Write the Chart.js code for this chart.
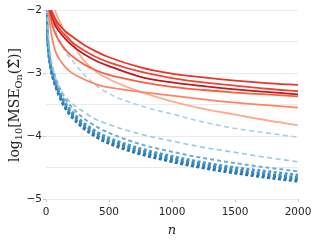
<!DOCTYPE html>
<html><head><meta charset="utf-8">
<script src="https://cdn.jsdelivr.net/npm/chart.js@4/dist/chart.umd.min.js"></script>
<style>html,body{margin:0;padding:0;background:#fff;}</style>
</head><body>
<canvas id="c" width="316" height="244"></canvas>
<script>
// sample sizes n
const nValues = [5,10,20,40,60,80,100,150,200,300,400,500,750,1000,1250,1500,1750,2000];
// red solid series (log10 MSE)
const red1 = [-1.30,-1.50,-1.75,-1.98,-2.08,-2.16,-2.22,-2.33,-2.41,-2.55,-2.66,-2.75,-2.91,-3.01,-3.07,-3.12,-3.16,-3.19];
const red2 = [-1.35,-1.55,-1.80,-2.02,-2.13,-2.21,-2.28,-2.40,-2.50,-2.64,-2.75,-2.83,-2.98,-3.08,-3.15,-3.20,-3.25,-3.29];
const red3 = [-1.40,-1.60,-1.85,-2.06,-2.18,-2.27,-2.33,-2.45,-2.55,-2.70,-2.81,-2.89,-3.06,-3.15,-3.21,-3.26,-3.30,-3.34];
const red4 = [-1.35,-1.60,-1.88,-2.15,-2.30,-2.40,-2.48,-2.62,-2.72,-2.86,-2.96,-3.03,-3.14,-3.22,-3.27,-3.31,-3.34,-3.37];
const red5 = [-1.45,-1.70,-2.00,-2.35,-2.55,-2.68,-2.76,-2.90,-2.99,-3.10,-3.18,-3.23,-3.30,-3.36,-3.42,-3.47,-3.51,-3.55];
const red6 = [-1.00,-1.20,-1.45,-1.75,-1.93,-2.05,-2.15,-2.35,-2.50,-2.80,-2.98,-3.10,-3.30,-3.45,-3.57,-3.66,-3.75,-3.83];
// blue dashed series
const blue1 = [-1.40,-1.60,-1.80,-2.05,-2.20,-2.35,-2.45,-2.65,-2.78,-3.02,-3.20,-3.33,-3.52,-3.65,-3.78,-3.88,-3.95,-4.02];
const blue2 = [-1.70,-2.00,-2.40,-2.78,-2.97,-3.11,-3.21,-3.37,-3.47,-3.62,-3.74,-3.82,-3.97,-4.08,-4.18,-4.26,-4.34,-4.41];
const blue3 = [-1.90,-2.25,-2.55,-2.82,-2.97,-3.10,-3.20,-3.40,-3.53,-3.72,-3.85,-3.95,-4.13,-4.25,-4.35,-4.43,-4.50,-4.56];
const blue4 = [-1.95,-2.30,-2.60,-2.88,-3.04,-3.16,-3.26,-3.46,-3.60,-3.79,-3.93,-4.03,-4.20,-4.32,-4.42,-4.50,-4.56,-4.62];
const blue5 = [-1.97,-2.32,-2.63,-2.91,-3.07,-3.19,-3.29,-3.49,-3.63,-3.82,-3.96,-4.06,-4.23,-4.35,-4.45,-4.53,-4.60,-4.66];
const blue6 = [-2.00,-2.35,-2.66,-2.94,-3.10,-3.22,-3.32,-3.52,-3.66,-3.85,-3.99,-4.09,-4.26,-4.38,-4.48,-4.56,-4.63,-4.69];
const blue7 = [-2.02,-2.37,-2.68,-2.96,-3.12,-3.24,-3.35,-3.55,-3.69,-3.88,-4.02,-4.12,-4.29,-4.41,-4.51,-4.59,-4.66,-4.72];
const xTicks = [0,500,1000,1500,2000];
const yTicks = [-5,-4,-3,-2];

function pts(arr){ return arr.map((v,i)=>({x:nValues[i], y:v})); }
function solid(arr,color){ return {data:pts(arr), borderColor:color, borderWidth:1.8, pointRadius:0, fill:false, cubicInterpolationMode:'monotone'}; }
function dashed(arr,color,w,dash){ return {data:pts(arr), borderColor:color, borderWidth:w, borderDash:dash, pointRadius:0, fill:false, cubicInterpolationMode:'monotone'}; }

const datasets = [
  solid(red1,'#e8352b'),
  solid(red2,'#ee4433'),
  solid(red3,'#c4161c'),
  solid(red4,'#f6603f'),
  solid(red5,'#fc8565'),
  solid(red6,'#fcac91'),
  dashed(blue1,'#a9d0e6',1.6,[5,3.5]),
  dashed(blue2,'#9ac8e0',1.6,[5,3.5]),
  dashed(blue3,'#6aaed6',2,[4,3]),
  dashed(blue4,'#4a97c9',2.5,[3,2.5]),
  dashed(blue5,'#3a88c2',2.5,[3,2.5]),
  dashed(blue6,'#2e7ebc',2.5,[3,2.5]),
  dashed(blue7,'#2171b5',2.5,[3,2.5])
];

const titles = {
  id:'titles',
  afterDraw(chart){
    const ctx = chart.ctx;
    ctx.save();
    ctx.fillStyle = '#262626';
    // x title
    ctx.font = 'italic 13px "DejaVu Serif"';
    ctx.textAlign = 'center'; ctx.textBaseline = 'alphabetic';
    ctx.fillText('n', (chart.chartArea.left+chart.chartArea.right)/2, 234);
    // y title
    ctx.translate(15, 105);
    ctx.rotate(-Math.PI/2);
    ctx.textAlign = 'left';
    let s = 12;
    const parts = [['log',1,0],['10',0.7,3],['[MSE',1,0],['On',0.7,3],['(\u03A3\u0302)]',1,0]];
    const measure = (sz)=>{ let t=0; parts.forEach(p=>{ ctx.font = (sz*p[1])+'px "DejaVu Serif"'; t+=ctx.measureText(p[0]).width; }); return t; };
    s = s*114/measure(s);
    let x = -measure(s)/2;
    parts.forEach(p=>{ ctx.font = (s*p[1])+'px "DejaVu Serif"'; ctx.fillText(p[0], x, 4 + p[2]); x += ctx.measureText(p[0]).width; });
    ctx.restore();
  }
};

const fmt = v => String(v).replace('-', '\u2212');

new Chart(document.getElementById('c'), {
  type:'line',
  data:{datasets},
  options:{
    responsive:false, animation:false, devicePixelRatio:1,
    layout:{padding:{top:10,right:18,left:0,bottom:0}},
    plugins:{legend:{display:false}, tooltip:{enabled:false}},
    scales:{
      x:{type:'linear', min:0, max:2000,
        afterBuildTicks: s => { s.ticks = xTicks.map(v=>({value:v})); },
        afterFit: s => { s.height = 45; },
        ticks:{color:'#262626', font:{family:'"DejaVu Sans"', size:10.5}, padding:4, maxRotation:0, callback: v => String(v)},
        grid:{drawOnChartArea:false, drawTicks:true, tickLength:3, tickColor:'#c8c8c8'},
        border:{display:false}
      },
      y:{type:'linear', min:-5, max:-2,
        afterBuildTicks: s => { const t=[]; for(let i=0;i<7;i++){ t.push({value:-5+0.5*i}); } s.ticks = t; },
        afterFit: s => { s.width = 46; },
        ticks:{color:'#262626', font:{family:'"DejaVu Sans"', size:10.5}, padding:1,
          callback: v => yTicks.includes(v) ? fmt(v) : ''},
        grid:{color:'#ebebeb', lineWidth:1, drawTicks:true, tickLength:3,
          tickColor: c => yTicks.includes(c.tick && c.tick.value) ? '#c8c8c8' : 'rgba(0,0,0,0)'},
        border:{display:false}
      }
    }
  },
  plugins:[titles]
});
</script>
</body></html>
